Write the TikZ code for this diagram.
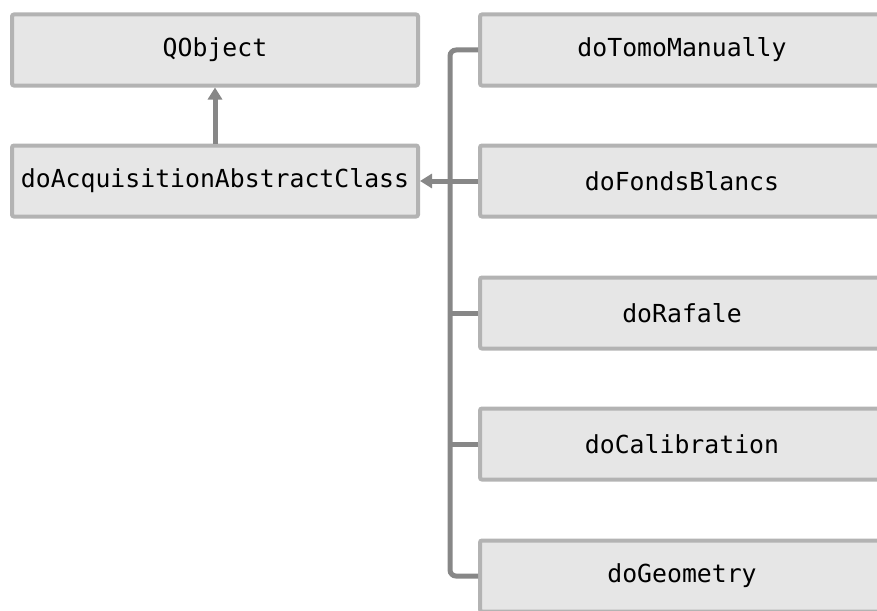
\documentclass[tikz,border=0pt]{standalone}
\usepackage{fontspec}
\setmonofont{DejaVu Sans Mono}
\usetikzlibrary{arrows.meta}
\definecolor{boxfill}{HTML}{E6E6E6}
\definecolor{boxline}{HTML}{B3B3B3}
\definecolor{linkline}{HTML}{878787}
\begin{document}
\begin{tikzpicture}[x=1pt, y=-1pt,
    classbox/.style={draw=boxline, fill=boxfill, line width=4pt, rounded corners=2pt,
      minimum height=71pt, inner sep=0pt, font=\ttfamily\fontsize{24.8}{28}\selectfont},
    link/.style={draw=linkline, line width=5pt, rounded corners=6pt},
    inherit/.style={link, -{Triangle[length=12pt,width=14pt]}}]
    \useasboundingbox (0,0) rectangle (877,610);
    \clip (0,0) rectangle (877,610);

    % Base classes
    \node[classbox, minimum width=406pt] (qobject) at (215,50) {QObject};
    \node[classbox, minimum width=406pt] (acq) at (215,181) {doAcquisitionAbstractClass};
    \draw[inherit] (acq.north) -- (qobject.south);

    % Derived classes
    \node[classbox, minimum width=404pt] (tomo) at (682,50) {doTomoManually};
    \node[classbox, minimum width=404pt] (fonds) at (682,181) {doFondsBlancs};
    \node[classbox, minimum width=404pt] (rafale) at (682,313) {doRafale};
    \node[classbox, minimum width=404pt] (calib) at (682,444) {doCalibration};
    \node[classbox, minimum width=404pt] (geom) at (682,576) {doGeometry};

    % Inheritance bus
    \coordinate (bus) at (450,181);
    \draw[link] (tomo.west) -| (bus) |- (geom.west);
    \draw[link] (rafale.west) -- (rafale.west -| bus);
    \draw[link] (calib.west) -- (calib.west -| bus);
    \draw[inherit] (fonds.west) -- (acq.east);
\end{tikzpicture}
\end{document}
